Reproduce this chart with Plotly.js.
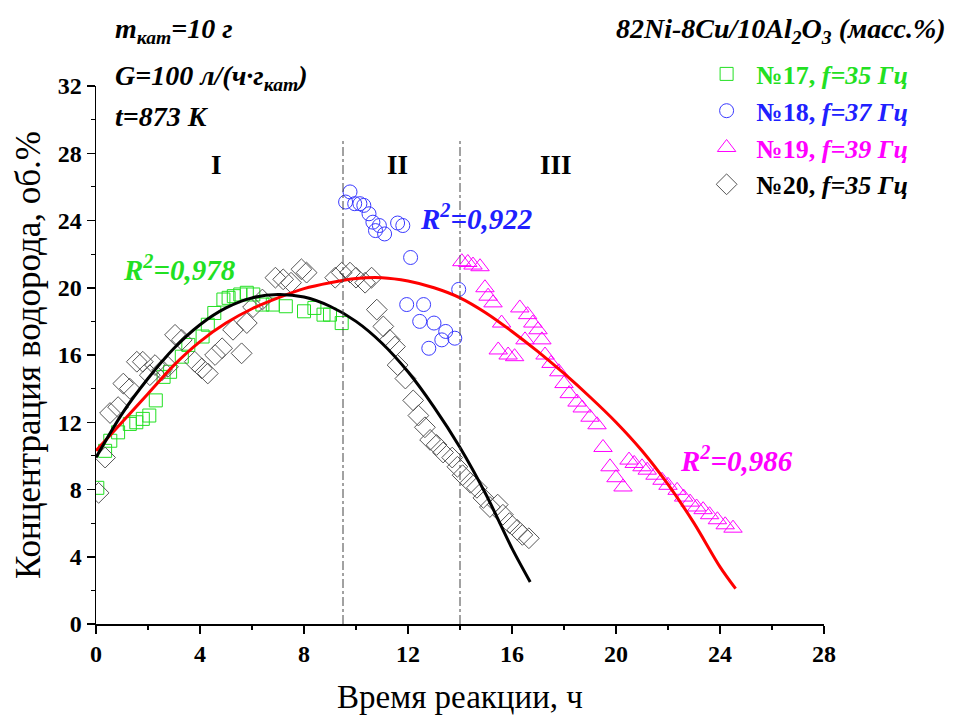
<!DOCTYPE html>
<html>
<head>
<meta charset="utf-8">
<script src="https://cdn.plot.ly/plotly-3.0.1.min.js"></script>
<style>html,body{margin:0;padding:0;background:#fff;}#chart{width:956px;height:715px;}</style>
</head>
<body>
<div id="chart"></div>
<script>
// Series 17 (green squares)
const x17 = [0.05,0.35,0.55,0.85,1.3,1.55,1.8,2.05,2.3,2.6,2.85,3.3,3.55,4.1,4.3,4.55,4.9,5.1,5.3,5.55,5.8,6.05,6.4,6.8,7.3,8.0,8.4,8.75,9.0,9.45];
const y17 = [8.1,10.3,10.9,11.4,11.9,12.0,12.2,12.4,13.3,14.7,15.0,15.9,16.6,17.1,17.8,18.5,19.3,19.4,19.5,19.6,19.7,19.6,19.0,19.0,18.9,18.6,18.8,18.4,18.4,17.9];
// Series 18 (blue circles)
const x18 = [9.6,9.77,9.95,10.15,10.3,10.5,10.65,10.9,10.75,11.1,11.6,11.8,12.1,11.95,12.6,12.45,13.0,13.45,13.3,13.8,12.8,13.95];
const y18 = [25.1,25.7,25.0,25.0,24.9,24.4,23.9,23.7,23.4,23.2,23.85,23.7,21.8,19.0,19.0,18.0,17.9,17.4,16.9,17.0,16.4,19.9];
// Series 19 (magenta triangles)
const x19 = [14.07,14.3,14.5,14.77,14.96,15.08,15.27,15.6,16.3,16.6,16.8,17.0,17.15,16.5,15.47,15.85,16.1,17.27,17.5,17.8,18.0,18.2,18.5,18.7,19.0,19.27,19.5,19.77,20.0,20.27,20.5,20.7,21.0,21.2,21.5,21.77,22.0,22.35,22.6,22.85,23.1,23.35,23.6,23.9,24.2,24.5];
const y19 = [21.55,21.5,21.35,21.25,20.0,19.5,19.1,17.9,18.8,18.4,17.9,17.5,16.9,16.9,16.3,16.0,15.9,16.0,15.5,15.0,14.3,13.7,13.2,12.85,12.3,11.85,10.5,9.35,8.7,8.15,9.75,9.55,9.35,9.15,8.85,8.55,8.25,7.95,7.55,7.25,6.96,6.8,6.5,6.2,5.9,5.7];
// Series 20 (black diamonds)
const x20 = [0.1,0.35,0.54,0.85,1.05,1.3,1.57,1.8,2.07,2.27,2.54,2.77,3.04,3.3,3.8,4.07,4.3,4.58,4.85,5.27,5.6,5.8,6.04,6.4,6.9,7.2,7.5,7.9,8.1,9.2,9.45,9.77,10.0,10.35,10.6,10.8,11.05,11.3,11.5,11.6,11.9,12.2,12.4,12.65,12.85,13.1,13.35,13.7,13.9,14.1,14.4,14.65,14.9,15.15,15.45,15.65,15.9,16.2,16.4,16.65];
const y20 = [7.8,9.9,12.55,12.9,14.3,14.0,15.6,15.6,14.8,15.4,15.1,15.3,17.2,16.9,15.6,15.2,14.9,16.0,16.4,17.5,16.1,17.9,18.85,19.3,20.6,20.5,20.3,21.1,20.9,20.6,20.9,20.9,20.6,20.3,20.6,18.7,17.7,16.9,16.5,15.4,14.6,13.3,12.4,11.7,10.95,10.65,10.2,9.9,9.35,8.85,8.4,8.1,7.5,6.96,7.1,6.5,6.0,5.6,5.3,5.1];
// Fit curves
const xFitRed = [0,1,2,3,4,5,6,7,8,9,10,11,12,13,14,15,16,17,18,19,20,21,22,23,24,24.6];
const yFitRed = [10.3,12.0,13.7,15.4,16.8,17.9,18.75,19.4,19.95,20.3,20.55,20.6,20.4,20.0,19.4,18.5,17.4,16.2,14.9,13.5,12.0,10.3,8.3,6.0,3.4,2.1];
const xFitBlack = [0,1,2,3,4,5,6,7,8,9,10,11,12,13,14,15,16,16.7];
const yFitBlack = [9.9,12.5,14.6,16.4,17.8,18.8,19.4,19.6,19.45,18.9,18.0,16.7,15.0,12.9,10.5,7.7,4.5,2.5];
// Stage boundaries and labels
const stageBounds = [9.5, 14];
const stageLabels = ['I','II','III'];
const stageLabelX = [4.65, 11.6, 17.7];
const r2Labels = ['0,978','0,922','0,986'];
const r2X = [3.2, 14.6, 24.65];
const r2Y = [21.2, 24.2, 9.8];

const GREEN = '#22e022', BLUE = '#2020ff', MAG = '#ff00ff';
const SERIF = "'Liberation Serif', 'Times New Roman', serif";

function nm(num, f, color){
  return '<span style="color:'+color+'"><b>№'+num+', <i>f</i><i>=</i><i>'+f+' Гц</i></b></span>';
}

const traces = [
  {x:x17, y:y17, mode:'markers', name:nm(17,35,GREEN),
   marker:{symbol:'square-open', size:13, color:GREEN, line:{width:1, color:GREEN}}},
  {x:x18, y:y18, mode:'markers', name:nm(18,37,BLUE),
   marker:{symbol:'circle-open', size:14, color:'#3a3aff', line:{width:1, color:'#3a3aff'}}},
  {x:x19, y:y19, mode:'markers', name:nm(19,39,MAG),
   marker:{symbol:'triangle-up-open', size:16, color:MAG, line:{width:1, color:MAG}}},
  {x:x20, y:y20, mode:'markers', name:nm(20,35,'#000'),
   marker:{symbol:'diamond-open', size:16, color:'#555', line:{width:1, color:'#555'}}},
  {x:xFitRed, y:yFitRed, mode:'lines', showlegend:false, line:{color:'#ff0000', width:3, shape:'spline', smoothing:0.8}},
  {x:xFitBlack, y:yFitBlack, mode:'lines', showlegend:false, line:{color:'#000', width:3, shape:'spline', smoothing:0.8}}
];

const shapes = stageBounds.map(b => ({type:'line', xref:'x', yref:'y', x0:b, x1:b, y0:0, y1:28.9,
  line:{color:'#444', width:1, dash:'dashdot'}}));

const annotations = [];
stageLabels.forEach((t,i)=>annotations.push({x:stageLabelX[i], y:27.3, xref:'x', yref:'y', text:'<b>'+t+'</b>',
  showarrow:false, font:{family:SERIF, size:27, color:'#000'}}));
const r2Colors = [GREEN, BLUE, MAG];
r2Labels.forEach((t,i)=>annotations.push({x:r2X[i], y:r2Y[i], xref:'x', yref:'y',
  text:'<b><i>R<sup>2</sup>=</i><i>'+t+'</i></b>', showarrow:false, font:{family:SERIF, size:29, color:r2Colors[i]}}));
annotations.push({x:0.0234, y:1.104, xref:'paper', yref:'paper', xanchor:'left', yanchor:'middle', showarrow:false,
  text:'<b><i>m<sub>кат</sub>=10 г</i></b>', font:{family:SERIF, size:28, color:'#000'}});
annotations.push({x:0.0234, y:1.015, xref:'paper', yref:'paper', xanchor:'left', yanchor:'middle', showarrow:false,
  text:'<b><i>G=100 л/(ч·г<sub>кат</sub>)</i></b>', font:{family:SERIF, size:28, color:'#000'}});
annotations.push({x:0.0234, y:0.943, xref:'paper', yref:'paper', xanchor:'left', yanchor:'middle', showarrow:false,
  text:'<b><i>t=873 K</i></b>', font:{family:SERIF, size:28, color:'#000'}});
annotations.push({x:1.170, y:1.104, xref:'paper', yref:'paper', xanchor:'right', yanchor:'middle', showarrow:false,
  text:'<b><i>82Ni-8Cu/10Al<sub>2</sub>O<sub>3</sub> (масс.%)</i></b>', font:{family:SERIF, size:28, color:'#000'}});

const axisCommon = {showgrid:false, zeroline:false, showline:true, linecolor:'#000', linewidth:1.5,
  ticks:'outside', ticklen:8, tickwidth:1.5, tickcolor:'#000',
  tickfont:{family:SERIF, size:24, color:'#000', weight:'bold'},
  minor:{ticks:'outside', ticklen:4, tickwidth:1.2, tickcolor:'#000'}};

const layout = {
  width:956, height:715, paper_bgcolor:'#fff', plot_bgcolor:'#fff',
  margin:{l:96, r:132, t:86, b:91},
  showlegend:true,
  legend:{x:0.825, y:1.066, xanchor:'left', yanchor:'top', bgcolor:'rgba(0,0,0,0)',
    font:{family:SERIF, size:26, color:'#000'}, traceorder:'normal', itemwidth:50},
  xaxis:Object.assign({}, axisCommon, {range:[0,28], dtick:4, tick0:0, minor:Object.assign({}, axisCommon.minor, {dtick:2}),
    title:{text:'Время реакции, ч', font:{family:SERIF, size:33, color:'#000'}, standoff:18}}),
  yaxis:Object.assign({}, axisCommon, {range:[0,32], dtick:4, tick0:0, minor:Object.assign({}, axisCommon.minor, {dtick:2}),
    title:{text:'Концентрация водорода, об.%', font:{family:SERIF, size:35, color:'#000'}, standoff:6}}),
  shapes:shapes, annotations:annotations
};

Plotly.newPlot('chart', traces, layout, {displayModeBar:false, staticPlot:true});
</script>
</body>
</html>
